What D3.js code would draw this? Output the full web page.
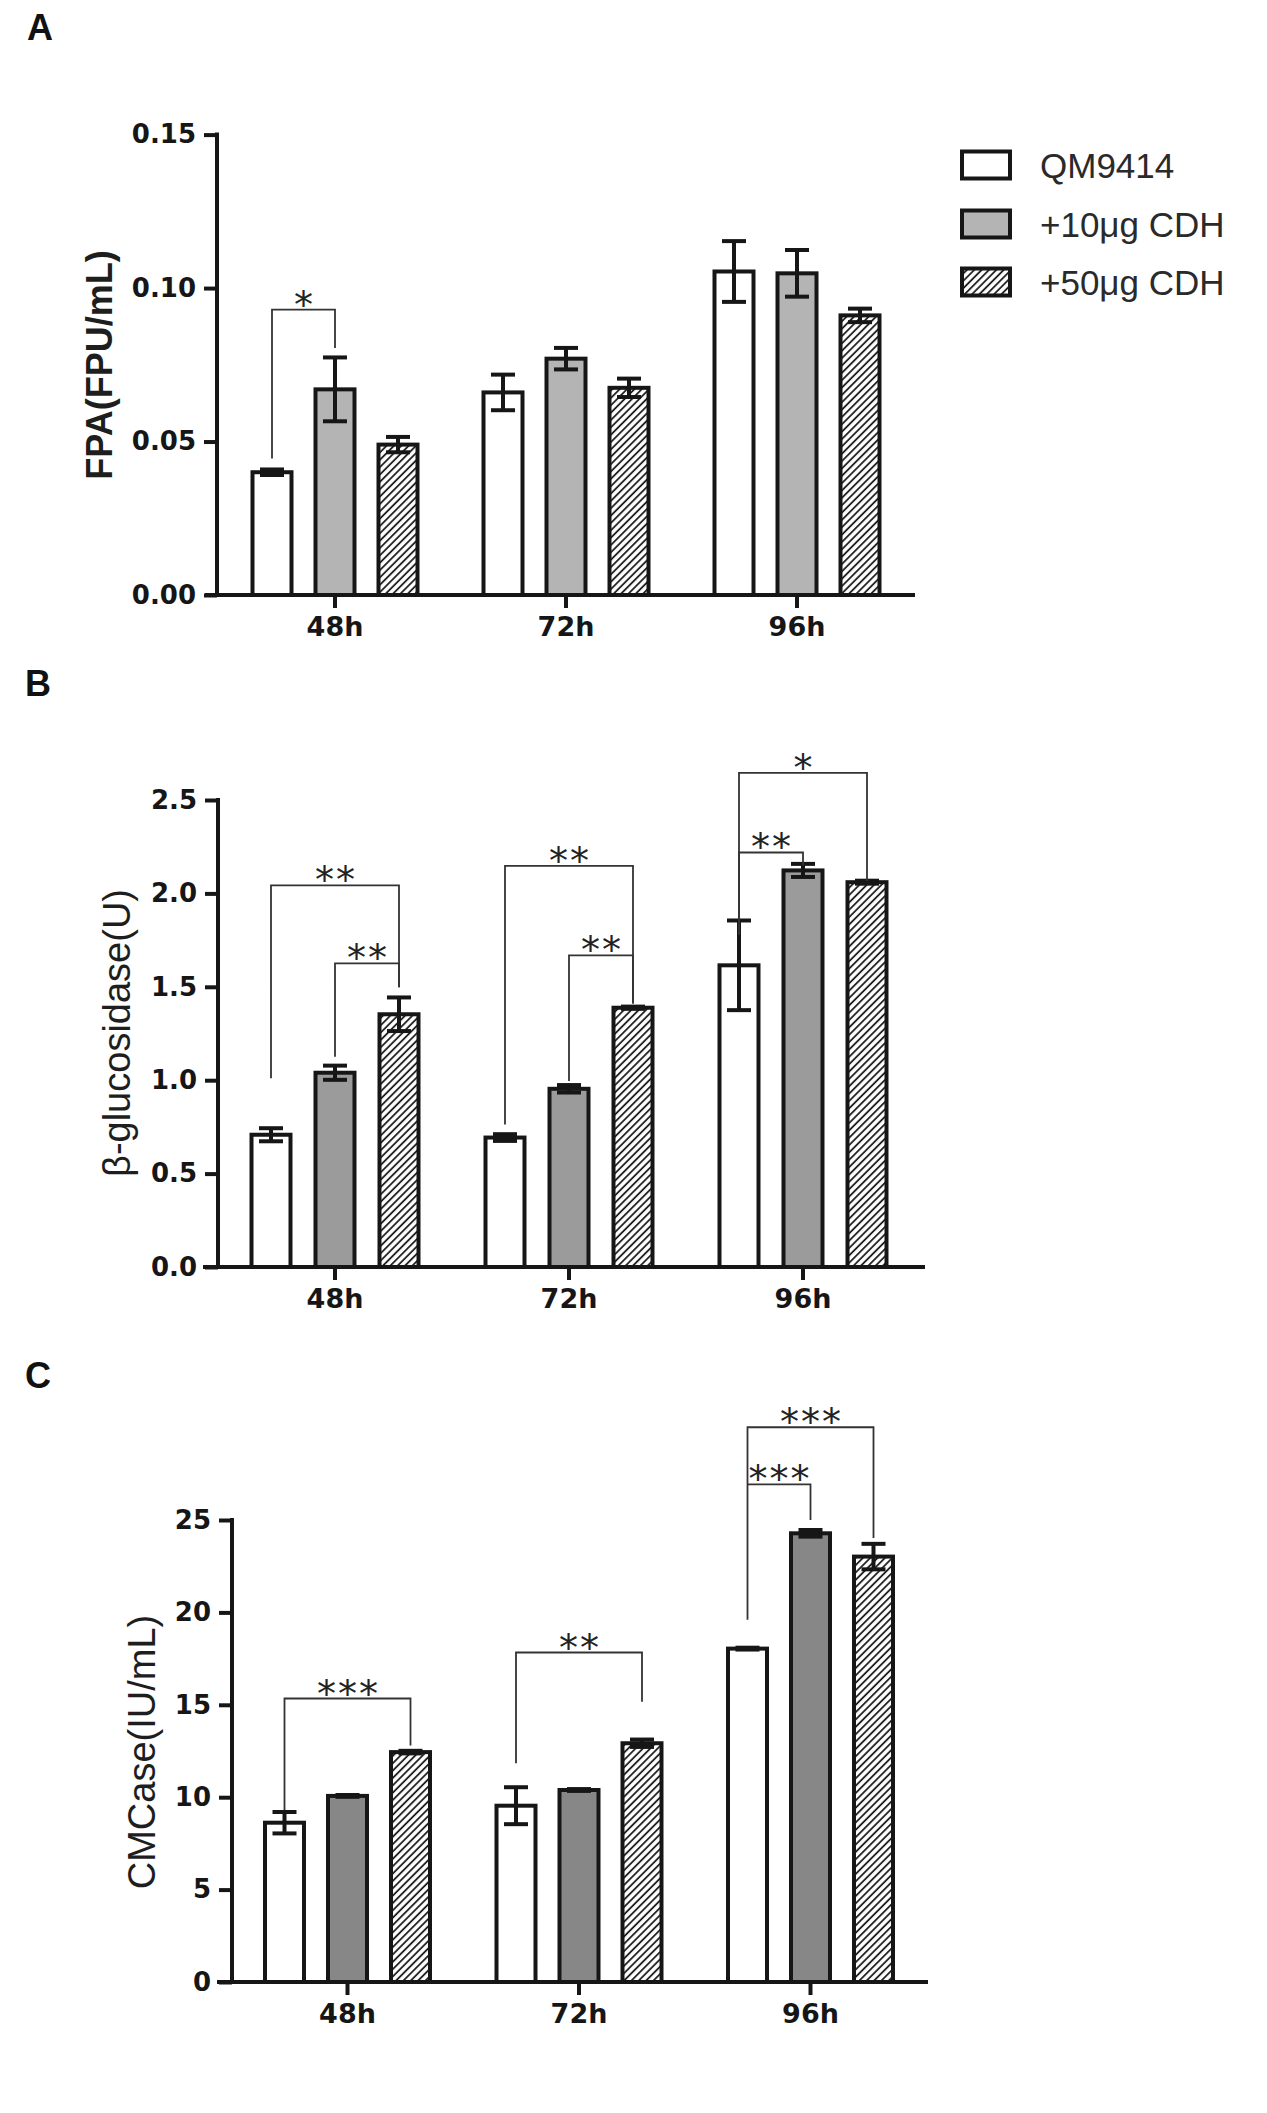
<!DOCTYPE html>
<html>
<head>
<meta charset="utf-8">
<script src="https://cdn.jsdelivr.net/npm/d3@7/dist/d3.min.js"></script>
<style>
  html, body { margin: 0; padding: 0; background: #fff; }
  svg { display: block; }
</style>
</head>
<body>
<script>
// ---------------- DATA ----------------
const groups = ["48h", "72h", "96h"];
const series = ["QM9414", "+10μg CDH", "+50μg CDH"];

// rows = groups (48h, 72h, 96h), columns = series
const fpaMean = [[0.040, 0.067, 0.049], [0.066, 0.077, 0.0675], [0.1054, 0.1048, 0.0911]];
const fpaErr  = [[0.0009, 0.0104, 0.0025], [0.0058, 0.0035, 0.003], [0.0099, 0.0076, 0.0022]];
const fpaTicks = [0, 0.05, 0.10, 0.15];

const bglMean = [[0.708, 1.040, 1.353], [0.693, 0.954, 1.388], [1.615, 2.123, 2.060]];
const bglErr  = [[0.035, 0.038, 0.09], [0.018, 0.02, 0.006], [0.24, 0.035, 0.008]];
const bglTicks = [0, 0.5, 1.0, 1.5, 2.0, 2.5];

const cmcMean = [[8.62, 10.07, 12.44], [9.54, 10.39, 12.92], [18.04, 24.28, 23.02]];
const cmcErr  = [[0.58, 0.05, 0.07], [1.0, 0.05, 0.2], [0.05, 0.18, 0.69]];
const cmcTicks = [0, 5, 10, 15, 20, 25];

// significance brackets: group, from series a, to series b, bracket height, leg ends, label
const fpaSig = [
  {g: 0, a: 0, b: 1, top: 0.093, botA: 0.0445, botB: 0.0805, label: "*"}
];
const bglSig = [
  {g: 0, a: 0, b: 2, top: 2.043, botA: 1.01, botB: 1.497, label: "**"},
  {g: 0, a: 1, b: 2, top: 1.625, botA: 1.126, botB: 1.497, label: "**"},
  {g: 1, a: 0, b: 2, top: 2.147, botA: 0.763, botB: 1.41, label: "**"},
  {g: 1, a: 1, b: 2, top: 1.668, botA: 0.996, botB: 1.41, label: "**"},
  {g: 2, a: 0, b: 2, top: 2.645, botA: 1.78, botB: 2.066, label: "*"},
  {g: 2, a: 0, b: 1, top: 2.219, botA: 1.78, botB: 2.15, label: "**"}
];
const cmcSig = [
  {g: 0, a: 0, b: 2, top: 15.34, botA: 9.3, botB: 12.8, label: "***"},
  {g: 1, a: 0, b: 2, top: 17.83, botA: 11.84, botB: 15.17, label: "**"},
  {g: 2, a: 0, b: 2, top: 30.02, botA: 19.6, botB: 24.03, label: "***"},
  {g: 2, a: 0, b: 1, top: 26.93, botA: 26.93, botB: 25.0, label: "***"}
];

// ---------------- DRAW ----------------
const W = 1267, H = 2113;
const svg = d3.select("body").append("svg").attr("width", W).attr("height", H)
  .attr("viewBox", `0 0 ${W} ${H}`);
svg.append("rect").attr("width", W).attr("height", H).attr("fill", "#fff");

const defs = svg.append("defs");
const pat = defs.append("pattern").attr("id", "hatch")
  .attr("patternUnits", "userSpaceOnUse").attr("width", 5.2).attr("height", 10)
  .attr("patternTransform", "rotate(45)");
pat.append("rect").attr("width", 5.2).attr("height", 10).attr("fill", "#fff");
pat.append("line").attr("x1", 1).attr("y1", 0).attr("x2", 1).attr("y2", 10)
  .attr("stroke", "#111").attr("stroke-width", 1.7);

const INK = "#161616";
const SANS = "'Liberation Sans', Arial, Helvetica, sans-serif";
const TICKF = "'DejaVu Sans', 'Liberation Sans', sans-serif";

function drawPanel(cfg) {
  const g = svg.append("g");
  const y = d3.scaleLinear().domain([0, cfg.ticks[cfg.ticks.length - 1]]).range(cfg.yRange);
  const x = d3.scaleBand().domain(groups).range(cfg.xRange).padding(0);
  const inner = d3.scalePoint().domain(series).range([-cfg.off, cfg.off]);
  const fills = ["#fff", cfg.gray, "url(#hatch)"];
  const y0 = y(0);
  const cx = (gi, si) => x(groups[gi]) + x.bandwidth() / 2 + inner(series[si]);

  // bars
  cfg.means.forEach((row, gi) => {
    row.forEach((v, si) => {
      g.append("rect")
        .attr("x", cx(gi, si) - 19.5).attr("width", 39)
        .attr("y", y(v)).attr("height", y0 - y(v))
        .attr("fill", fills[si]).attr("stroke", INK).attr("stroke-width", 4);
    });
  });
  // error bars
  cfg.means.forEach((row, gi) => {
    row.forEach((v, si) => {
      const e = cfg.errs[gi][si];
      const c = cx(gi, si);
      const eg = g.append("g").attr("stroke", INK).attr("stroke-width", 4);
      eg.append("line").attr("x1", c).attr("x2", c).attr("y1", y(v + e)).attr("y2", y(v - e));
      [v + e, v - e].forEach(t => {
        eg.append("line").attr("x1", c - 12).attr("x2", c + 12).attr("y1", y(t)).attr("y2", y(t));
      });
    });
  });

  // y axis
  const ya = g.append("g").attr("transform", `translate(${cfg.yAxisX},0)`)
    .call(d3.axisLeft(y).tickValues(cfg.ticks).tickFormat(d3.format(cfg.fmt))
      .tickSize(13).tickPadding(8).tickSizeOuter(0));
  ya.select(".domain").remove();
  ya.selectAll(".tick line").attr("stroke", INK).attr("stroke-width", 4);
  ya.selectAll(".tick text").attr("fill", INK).attr("font-family", TICKF)
    .attr("font-weight", "bold").attr("font-size", 26);

  // x axis
  const xa = g.append("g").attr("transform", `translate(0,${y0})`)
    .call(d3.axisBottom(x).tickSize(13).tickPadding(9).tickSizeOuter(0));
  xa.select(".domain").remove();
  xa.selectAll(".tick line").attr("stroke", INK).attr("stroke-width", 4);
  xa.selectAll(".tick text").attr("fill", INK).attr("font-family", TICKF)
    .attr("font-weight", "bold").attr("font-size", 27);

  // axis lines
  g.append("line").attr("x1", cfg.yAxisX).attr("x2", cfg.yAxisX)
    .attr("y1", y(cfg.ticks[cfg.ticks.length - 1]) - 2).attr("y2", y0 + 2)
    .attr("stroke", INK).attr("stroke-width", 4);
  g.append("line").attr("x1", cfg.axisX[0]).attr("x2", cfg.axisX[1])
    .attr("y1", y0).attr("y2", y0).attr("stroke", INK).attr("stroke-width", 4);

  // brackets
  cfg.sig.forEach(s => {
    const xa_ = cx(s.g, s.a), xb_ = cx(s.g, s.b);
    g.append("path")
      .attr("d", `M${xa_},${y(s.botA)}V${y(s.top)}H${xb_}V${y(s.botB)}`)
      .attr("fill", "none").attr("stroke", "#333").attr("stroke-width", 1.8);
    const mid = (xa_ + xb_) / 2;
    const n = s.label.length;
    for (let i = 0; i < n; i++) {
      g.append("text")
        .attr("x", mid + (i - (n - 1) / 2) * 21)
        .attr("y", y(s.top) + 8)
        .attr("text-anchor", "middle")
        .attr("font-family", "'DejaVu Sans', sans-serif")
        .attr("font-size", 38).attr("fill", "#222")
        .text("*");
    }
  });

  // y title
  g.append("text")
    .attr("transform", `translate(${cfg.titleX},${cfg.titleY}) rotate(-90)`)
    .attr("text-anchor", "middle")
    .attr("font-family", SANS)
    .attr("font-weight", cfg.titleBold ? "bold" : "normal")
    .attr("font-size", cfg.titleSize).attr("fill", "#1e1e1e")
    .text(cfg.title);

  // panel label
  g.append("text").attr("x", cfg.labelX).attr("y", cfg.labelY)
    .attr("font-family", SANS).attr("font-weight", "bold").attr("font-size", 36)
    .attr("fill", "#111").text(cfg.label);

  return {x, y};
}

drawPanel({
  means: fpaMean, errs: fpaErr, sig: fpaSig, ticks: fpaTicks, fmt: ".2f",
  yRange: [595, 134.6], xRange: [219.5, 912.5], off: 63, axisX: [205, 915], yAxisX: 217,
  gray: "#b4b4b4", title: "FPA(FPU/mL)", titleBold: true, titleSize: 36, titleX: 112, titleY: 365,
  label: "A", labelX: 27, labelY: 40
});
drawPanel({
  means: bglMean, errs: bglErr, sig: bglSig, ticks: bglTicks, fmt: ".1f",
  yRange: [1267, 800], xRange: [218, 920], off: 64, axisX: [203, 925], yAxisX: 218,
  gray: "#9b9b9b", title: "β-glucosidase(U)", titleBold: false, titleSize: 38, titleX: 130, titleY: 1033,
  label: "B", labelX: 25, labelY: 696
});
drawPanel({
  means: cmcMean, errs: cmcErr, sig: cmcSig, ticks: cmcTicks, fmt: "d",
  yRange: [1982, 1520], xRange: [231.75, 926.25], off: 63, axisX: [217, 928], yAxisX: 232,
  gray: "#878787", title: "CMCase(IU/mL)", titleBold: false, titleSize: 38, titleX: 155, titleY: 1752,
  label: "C", labelX: 25, labelY: 1388
});

// legend (panel A)
const legend = svg.append("g");
const legendFills = ["#fff", "#b4b4b4", "url(#hatch)"];
const legendY = [165, 224, 282];
series.forEach((s, i) => {
  legend.append("rect").attr("x", 962).attr("y", legendY[i] - 13.5)
    .attr("width", 48).attr("height", 27)
    .attr("fill", legendFills[i]).attr("stroke", INK).attr("stroke-width", 4);
  legend.append("text").attr("x", 1040).attr("y", legendY[i] + 12.5)
    .attr("font-family", SANS).attr("font-size", 35).attr("fill", "#2a2a2a")
    .text(s);
});
</script>
</body>
</html>
